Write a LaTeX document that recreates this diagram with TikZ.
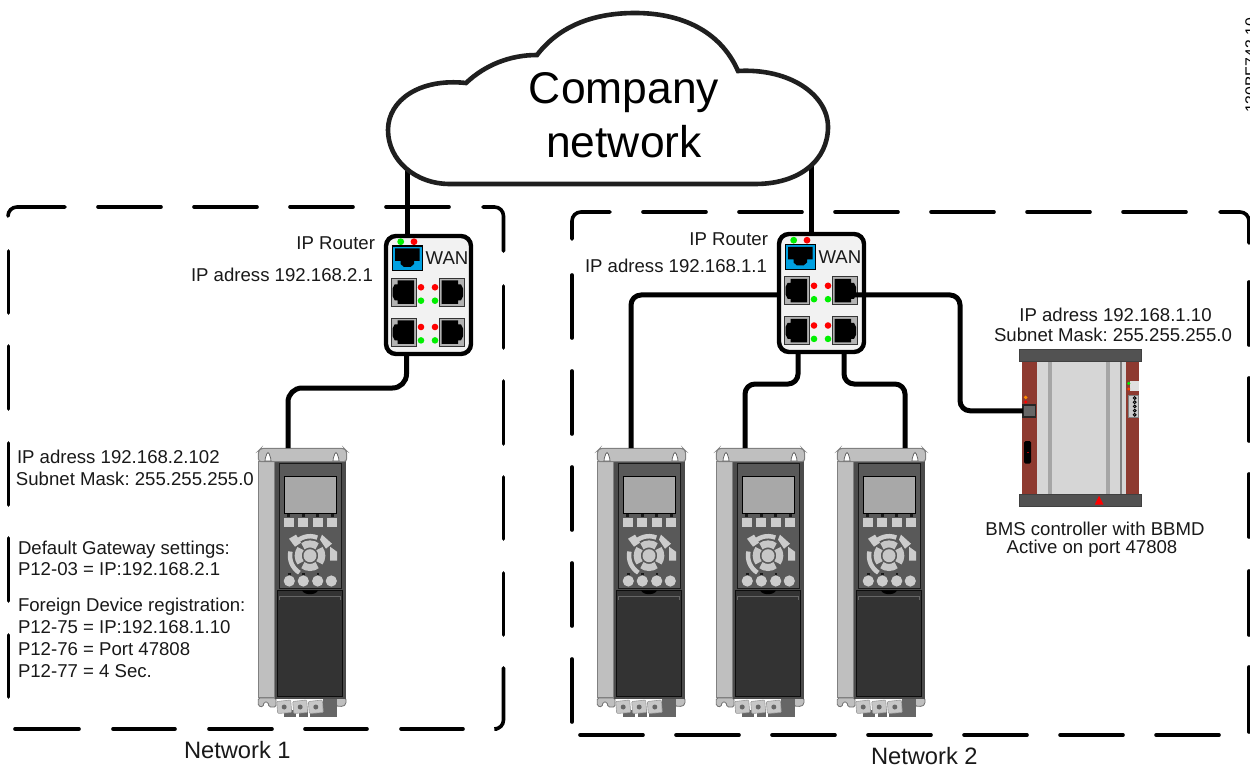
\documentclass[tikz,border=0pt]{standalone}
\usepackage{fontspec}
\setmainfont{Liberation Sans}
\frenchspacing
\usetikzlibrary{calc}
\definecolor{ledred}{HTML}{FF0000}
\definecolor{ledgreen}{HTML}{00F000}
\definecolor{wanblue}{HTML}{00A0E0}
\definecolor{bmsred}{HTML}{8E3A30}
\tikzset{
  x=1pt,y=-1pt,
  lbl/.style={inner sep=0pt,outer sep=0pt,font=\fontsize{18.6}{22}\selectfont,text=black!90},
  netlbl/.style={inner sep=0pt,outer sep=0pt,font=\fontsize{23.7}{28}\selectfont,text=black!90},
  bigtxt/.style={inner sep=0pt,outer sep=0pt,font=\fontsize{44.4}{52}\selectfont,text=black},
  dashline/.style={line width=3.6pt,line cap=round,black},
  cable/.style={line width=5pt,black,rounded corners=10pt},
  routerbox/.style={draw=black,line width=4.4pt,fill=black!5,rounded corners=10pt,minimum width=85pt,minimum height=118pt,inner sep=0pt,outer sep=0pt},
  drivebox/.style={minimum width=89pt,minimum height=268pt,inner sep=0pt,outer sep=0pt},
  bmsbox/.style={minimum width=122pt,minimum height=157pt,inner sep=0pt,outer sep=0pt},
  bmsport/.style={draw=black!85,line width=1.5pt,fill=black!60,minimum width=12.5pt,minimum height=12pt,inner sep=0pt,outer sep=0pt},
  led/.style={fill=#1,draw=none},
  portrect/.style={fill=black!30,draw=black!80,line width=1pt},
  jackleft/.pic={\fill[black] (6,2)--(22.5,2)--(22.5,25.5)--(6,25.5)--(6,22)--(3,22)--(1,18)--(1,10)--(3,6)--(6,6)--cycle;},
  jackright/.pic={\fill[black] (19,2)--(2.5,2)--(2.5,25.5)--(19,25.5)--(19,22)--(22,22)--(24,18)--(24,10)--(22,6)--(19,6)--cycle;},
  routerparts/.pic={
    \fill[led=ledgreen] (16.7,7.7) circle (3.4);
    \fill[led=ledred] (30,7.7) circle (3.4);
    \draw[fill=wanblue,draw=black,line width=1.1pt] (8.3,12) rectangle (38.3,36.7);
    \fill[black] (11,14.5)--(35.5,14.5)--(35.5,27)--(30,27)--(30,30)--(26.5,33)--(20,33)--(16.5,30)--(16.5,27)--(11,27)--cycle;
    \foreach \px/\py/\jk in {7.7/44.3/jackleft,55/44.3/jackright,7.7/84.3/jackleft,55/84.3/jackright}{
      \draw[portrect] (\px,\py) rectangle ++(25,28);
      \pic at (\px,\py) {\jk};
    }
    \foreach \ly in {53.3,93}{
      \fill[led=ledred] (37,\ly) circle (3.3);
      \fill[led=ledred] (51,\ly) circle (3.3);
      \fill[led=ledgreen] (37,\ly+13.4) circle (3.3);
      \fill[led=ledgreen] (51,\ly+13.4) circle (3.3);
    }
  },
  driveparts/.pic={
    \draw[fill=black!25,draw=black!55,line width=.8pt,rounded corners=1.5pt] (0.3,250)--(0.3,258)--(5,259)--(6,254)--(10,254)--(11,259)--(18,259)--(18,250)--cycle;
    \draw[fill=black!25,draw=black!55,line width=.8pt,rounded corners=1.5pt] (78,250)--(78,258)--(85,258.5)--(88,256)--(88,250)--cycle;
    \fill[black!60] (65,250) rectangle (78.7,268.7);
    \fill[black!60] (26,262) rectangle (38,268.7);
    \fill[black!60] (41,262) rectangle (50,268.7);
    \fill[black!60] (52,262) rectangle (66,268.7);
    \fill[black!70] (17,13) rectangle (87.5,251);
    \draw[fill=black!25,draw=black!50,line width=1pt] (0.5,13) rectangle (16,249);
    \draw[fill=black!25,draw=black!50,line width=1pt,rounded corners=3pt] (0.3,13.7)--(0.3,3)--(3,0.3)--(86,0.3)--(88.7,3)--(88.7,13.7)--cycle;
    \foreach \tx in {10,78}{
      \draw[fill=white,draw=black!65,line width=.7pt] (\tx-3,13) .. controls (\tx-3,9) and (\tx-1.3,8) .. (\tx-1.3,6) .. controls (\tx-1.3,4) and (\tx+1.3,4) .. (\tx+1.3,6) .. controls (\tx+1.3,8) and (\tx+3,9) .. (\tx+3,13) -- cycle;
    }
    \draw[fill=black!65,draw=black!90,line width=1pt] (21.3,15.3) rectangle (83.7,140.3);
    \draw[fill=black!34,draw=black,line width=1pt] (26.3,28) rectangle (78,65.3);
    \foreach \sx in {30.3,45,59.7,74}{\fill[black!90] (\sx-1.5,66) rectangle (\sx+1.5,69);}
    \foreach \bx in {26,40.3,54.7,69}{\fill[black!20] (\bx,69.7) rectangle ++(10,9);}
    \begin{scope}[shift={(52,107.7)},yscale=-1]
      \draw[black!20,line width=4.5pt] (68:19.5) arc (68:145:19.5);
      \fill[black!20] (-21,17) -- (-14,21) -- (-9,13) -- (-15,9) -- cycle;
      \draw[black!20,line width=4.5pt] (168:20) arc (168:238:20);
      \fill[black!20] (12,21) -- (22,12) -- (16,7) -- (10,16) -- cycle;
      \fill[black!20] (20,9) -- (27,4) -- (27,-5) -- (20,-5) -- cycle;
      \foreach \qa in {0,90,180,270}{
        \draw[black!22,line width=7pt] (\qa-37:11.8) arc (\qa-37:\qa+37:11.8);
      }
      \fill[black!22] (0,0) circle (6.5);
    \end{scope}
    \foreach \cx in {31.3,45.3,59.7,73.3}{\fill[black!20] (\cx,133) circle (5.6);}
    \foreach \cx in {31.3,45.3,59.7}{\fill[black!90] (\cx-1.2,125) rectangle (\cx+1.2,127);}
    \draw[fill=black!80,draw=black!95,line width=1pt] (19.3,142.3) rectangle (84.7,248.3);
    \draw[black!60,line width=.8pt] (21,152)--(21,148.7)--(82.7,148.7)--(82.7,152);
    \fill[black] (44,142.3) .. controls (46,147.5) and (58,147.5) .. (60,142.3) -- cycle;
    \foreach \tx in {18.7,34.7,50.3}{
      \draw[fill=black!22,draw=black!40,line width=.6pt,rounded corners=1pt] (\tx,253.5)--(\tx+14,252)--(\tx+15,264.5)--(\tx+1,265.5)--cycle;
      \fill[black!60] (\tx+7.5,259) circle (2.5);
    }
  },
  bmsparts/.pic={
    \fill[black!16] (18,12) rectangle (108,145);
    \fill[bmsred] (3,12) rectangle (18,145);
    \fill[bmsred] (107.4,12) rectangle (119.7,145);
    \fill[black!35] (29,12) rectangle (33.4,145);
    \fill[black!35] (86.7,12) rectangle (90.7,145);
    \fill[black!50] (101.4,12) rectangle (103.4,145);
    \draw[fill=black!68,draw=black!75,line width=1pt] (0.5,0.5) rectangle (122,12.4);
    \draw[fill=black!68,draw=black!75,line width=1pt] (0.5,145) rectangle (122,157);
    \fill[led={orange!90!yellow}] (6.7,48.4) circle (1.9);
    \fill[led=ledred] (6.7,53) circle (1.6);
    \fill[black,rounded corners=1.5pt] (5,92) rectangle (12,114.7);
    \fill[red!70!black] (7.5,103) rectangle (9.5,103.7);
    \fill[black!12] (110.7,32.4) rectangle (119.7,42.4);
    \fill[led=ledgreen] (109.7,34.4) circle (1.7);
    \fill[led={red!75!yellow}] (109.7,40) circle (1.7);
    \draw[fill=black!20,draw=black!50,line width=.7pt] (109.4,46.7) rectangle (119.7,68.4);
    \foreach \py in {49,53.2,57.4,61.6,65.8}{\draw[black,fill=black!30,line width=.9pt] (115.7,\py) circle (1.4);}
    \fill[led=ledred] (80,146.7)--(75.9,155.5)--(84.4,155.5)--cycle;
  }
}
\begin{document}
\begin{tikzpicture}
\clip (0,0) rectangle (1250,767);
\fill[white] (0,0) rectangle (1250,767);

% Network 1 boundary
\draw[dashline,rounded corners=9pt] (8,216)--(8,207)--(65,207);
\foreach \a/\b in {98/161,194/257,290/353,386/449}{\draw[dashline] (\a,207)--(\b,207);}
\draw[dashline,rounded corners=9pt] (483,207)--(503.5,207)--(503.5,251);
\foreach \a/\b in {286/348,381/444,477/539,573/635}{\draw[dashline] (503.5,\a)--(503.5,\b);}
\draw[dashline,rounded corners=9pt] (503.5,668)--(503.5,729)--(497,729);
\foreach \a/\b in {15/79,113/175,209/272,305/367,401/463}{\draw[dashline] (\a,729)--(\b,729);}
\foreach \a/\b in {251/313,346/409,443/505,538/601,635/697}{\draw[dashline] (8.5,\a)--(8.5,\b);}

% Network 2 boundary
\draw[dashline,rounded corners=9pt] (572,239)--(572,212)--(610,212);
\foreach \a/\b in {643/706,739/802,835/898,931/994,1027/1090,1123/1186}{\draw[dashline] (\a,212)--(\b,212);}
\draw[dashline,rounded corners=9pt] (1220,212)--(1249,212)--(1249,243);
\foreach \a/\b in {282/345,378/441,474/537,571/635,667/732}{\draw[dashline] (1249,\a)--(1249,\b);}
\foreach \a/\b in {580/643,676/739,772/835,868/931,964/1027,1060/1123,1156/1219}{\draw[dashline] (\a,735)--(\b,735);}
\foreach \a/\b in {275/338,371/434,467/530,563/626,659/722}{\draw[dashline] (572,\a)--(572,\b);}

% Routers
\node[routerbox] (router1) at (428.5,295) {};
\path (384,234) pic {routerparts};
\node[routerbox] (router2) at (821.5,293) {};
\path (777,232.5) pic {routerparts};
\node[lbl,anchor=base west] (wan1) at (425.7,265) {WAN};
\node[lbl,anchor=base west] (wan2) at (818.5,263.5) {WAN};

% Drives
\node[drivebox,anchor=north west] (drive1) at (258,448) {};
\path (258,448) pic {driveparts};
\node[drivebox,anchor=north west] (drive2) at (597,448) {};
\path (597,448) pic {driveparts};
\node[drivebox,anchor=north west] (drive3) at (716,448) {};
\path (716,448) pic {driveparts};
\node[drivebox,anchor=north west] (drive4) at (837,448) {};
\path (837,448) pic {driveparts};

% BMS controller
\node[bmsbox,anchor=north west] (bms) at (1019,349) {};
\path (1019,349) pic {bmsparts};
\node[bmsport] (bmsp) at (1029.2,410.8) {};

% Cables
\coordinate (c1) at (407,165);
\coordinate (c2) at (811,165);
\draw[line width=5pt,black] (c1) -- (c1 |- router1.north);
\draw[line width=5pt,black] (c2) -- (c2 |- router2.north);
\draw[cable,rounded corners=14pt] ([xshift=-22pt]router1.south) -- ++(0,34) -| ([xshift=-14.5pt]drive1.north);
\coordinate (porta) at (855,295);
\draw[cable] (router2.west |- porta) -| ([xshift=-10.5pt]drive2.north);
\draw[cable] (porta) -- (960,295) |- (bmsp.west);
\draw[cable] ([xshift=-23.5pt]router2.south) -- ++(0,32) -| ([xshift=-15.5pt]drive3.north);
\draw[cable] ([xshift=22.5pt]router2.south) -- ++(0,32) -| ([xshift=23.5pt]drive4.north);

% Cloud
\draw[line width=4.6pt,draw=black!88,fill=white,line join=miter]
  (450,184) -- (755,184) .. controls (800,184) and (828,160) .. (828,127)
  .. controls (828,95) and (790,68) .. (738,71)
  .. controls (720,30) and (680,13) .. (635,13)
  .. controls (595,13) and (560,25) .. (537,55)
  .. controls (510,55) and (485,65) .. (466,83)
  .. controls (420,78) and (388,100) .. (388,130)
  .. controls (388,160) and (415,184) .. (450,184) -- cycle;
\node[bigtxt,anchor=base] (cloud1) at (624,104) {Company};
\node[bigtxt,anchor=base] (cloud2) at (624,157.5) {network};

% Labels
\node[lbl,anchor=base east] (l1) at (375,250) {IP Router};
\node[lbl,anchor=base east] (l2) at (373,282) {IP adress 192.168.2.1};
\node[lbl,anchor=base east] (l3) at (768,246) {IP Router};
\node[lbl,anchor=base east] (l4) at (767,272.5) {IP adress 192.168.1.1};
\node[lbl,anchor=base west] (l5) at (17,463) {IP adress 192.168.2.102};
\node[lbl,anchor=base west] (l6) at (16,485) {Subnet Mask: 255.255.255.0};
\node[lbl,anchor=base west] (l7) at (18,554) {Default Gateway settings:};
\node[lbl,anchor=base west] (l8) at (18,575) {P12-03 = IP:192.168.2.1};
\node[lbl,anchor=base west] (l9) at (18,611) {Foreign Device registration:};
\node[lbl,anchor=base west] (l10) at (18,633) {P12-75 = IP:192.168.1.10};
\node[lbl,anchor=base west] (l11) at (18,655) {P12-76 = Port 47808};
\node[lbl,anchor=base west] (l12) at (18,677) {P12-77 = 4 Sec.};
\node[lbl,anchor=base] (l13) at (1115.5,322) {IP adress 192.168.1.10};
\node[lbl,anchor=base] (l14) at (1113,341.5) {Subnet Mask: 255.255.255.0};
\node[lbl,anchor=base] (l15) at (1095,535.5) {BMS controller with BBMD};
\node[lbl,anchor=base] (l16) at (1092,553.5) {Active on port 47808};
\node[netlbl,anchor=base west] (n1) at (184,758.5) {Network 1};
\node[netlbl,anchor=base west] (n2) at (871,764) {Network 2};
\node[inner sep=0pt,outer sep=0pt,font=\fontsize{15.8}{18}\selectfont,anchor=base west,rotate=90] (code) at (1256.3,113) {130BF743.10};
\end{tikzpicture}
\end{document}
